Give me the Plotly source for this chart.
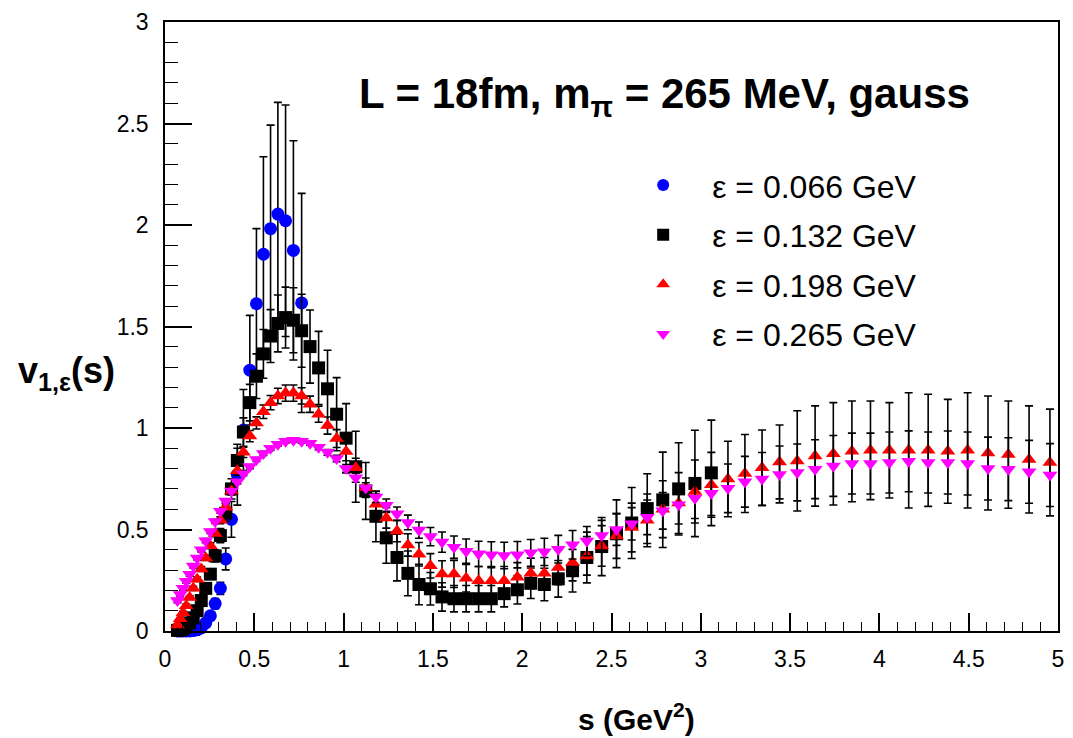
import plotly.graph_objects as go

# s grid (GeV^2)
s_all = [0.070, 0.085, 0.101, 0.119, 0.138, 0.158, 0.180, 0.203, 0.228, 0.254,
         0.281, 0.310, 0.340, 0.372, 0.405, 0.439, 0.475, 0.512, 0.551, 0.591,
         0.632, 0.675, 0.719, 0.765, 0.812, 0.860, 0.910, 0.961, 1.014, 1.068,
         1.124, 1.181, 1.239, 1.299, 1.360, 1.422, 1.486, 1.551, 1.618, 1.686,
         1.756, 1.827, 1.899, 1.973, 2.048, 2.124, 2.202, 2.282, 2.362, 2.445,
         2.528, 2.613, 2.700, 2.787, 2.876, 2.967, 3.059, 3.152, 3.247, 3.343,
         3.441, 3.540, 3.640, 3.742, 3.846, 3.950, 4.056, 4.164, 4.273, 4.383,
         4.494, 4.608, 4.722, 4.838, 4.955]

# eps = 0.066 GeV (blue)
s_blue = s_all[:24]
v_blue = [0.0, 0.0, 0.0, 0.0, 0.0, 0.002, 0.006, 0.015, 0.04, 0.075,
          0.135, 0.21, 0.355, 0.55, 0.77, 0.99, 1.285, 1.612, 1.856, 1.982,
          2.054, 2.021, 1.875, 1.616]
e_blue = [0.002, 0.002, 0.002, 0.002, 0.002, 0.005, 0.008, 0.012, 0.015, 0.02,
          0.025, 0.03, 0.054, 0.088, 0.15, 0.2, 0.27, 0.37, 0.48, 0.51,
          0.55, 0.57, 0.54, 0.54]

# eps = 0.132 GeV (black)
s_black = s_all[:57]
v_black = [0.003, 0.005, 0.01, 0.02, 0.04, 0.065, 0.10, 0.15, 0.21, 0.28,
           0.37, 0.47, 0.58, 0.70, 0.84, 0.98, 1.125, 1.255, 1.365, 1.453,
           1.515, 1.544, 1.531, 1.479, 1.401, 1.296, 1.193, 1.068, 0.95, 0.809,
           0.69, 0.565, 0.459, 0.362, 0.284, 0.229, 0.208, 0.168, 0.159, 0.159,
           0.159, 0.159, 0.184, 0.203, 0.235, 0.229, 0.257, 0.297, 0.362, 0.416,
           0.479, 0.532, 0.603, 0.646, 0.70, 0.727, 0.779]
e_black = [0.005, 0.005, 0.006, 0.008, 0.01, 0.012, 0.015, 0.018, 0.02, 0.025,
           0.03, 0.035, 0.04, 0.05, 0.06, 0.07, 0.09, 0.11, 0.12, 0.13,
           0.14, 0.15, 0.16, 0.18, 0.18, 0.18, 0.19, 0.18, 0.17, 0.175,
           0.14, 0.125, 0.125, 0.115, 0.11, 0.10, 0.08, 0.07, 0.065, 0.065,
           0.065, 0.065, 0.065, 0.07, 0.075, 0.08, 0.09, 0.105, 0.125, 0.143,
           0.167, 0.175, 0.172, 0.235, 0.227, 0.262, 0.26]

# eps = 0.198 GeV (red)
v_red = [0.03, 0.06, 0.09, 0.125, 0.165, 0.21, 0.255, 0.305, 0.36, 0.42,
         0.48, 0.545, 0.61, 0.69, 0.79, 0.88, 0.96, 1.025, 1.08, 1.125,
         1.158, 1.172, 1.172, 1.158, 1.117, 1.068, 1.012, 0.948, 0.884, 0.804,
         0.706, 0.625, 0.557, 0.492, 0.424, 0.378, 0.321, 0.281, 0.281, 0.26,
         0.248, 0.248, 0.248, 0.265, 0.284, 0.284, 0.313, 0.337, 0.37, 0.419,
         0.468, 0.51, 0.545, 0.60, 0.63, 0.687, 0.72, 0.749, 0.776, 0.804,
         0.833, 0.838, 0.862, 0.873, 0.885, 0.89, 0.89, 0.89, 0.89, 0.885,
         0.89, 0.877, 0.869, 0.845, 0.83]
e_red = [0.005, 0.006, 0.007, 0.008, 0.009, 0.01, 0.011, 0.012, 0.013, 0.014,
         0.015, 0.017, 0.019, 0.02, 0.022, 0.025, 0.028, 0.03, 0.033, 0.035,
         0.038, 0.04, 0.04, 0.04, 0.04, 0.04, 0.042, 0.044, 0.045, 0.047,
         0.048, 0.05, 0.05, 0.052, 0.055, 0.058, 0.06, 0.065, 0.067, 0.068,
         0.07, 0.07, 0.07, 0.072, 0.075, 0.078, 0.085, 0.09, 0.095, 0.10,
         0.11, 0.12, 0.13, 0.14, 0.15, 0.155, 0.16, 0.186, 0.192, 0.186,
         0.182, 0.247, 0.247, 0.252, 0.248, 0.243, 0.235, 0.284, 0.276, 0.256,
         0.284, 0.281, 0.264, 0.264, 0.263]

# eps = 0.265 GeV (magenta)
v_mag = [0.15, 0.18, 0.21, 0.245, 0.28, 0.32, 0.36, 0.40, 0.445, 0.49,
         0.54, 0.59, 0.64, 0.69, 0.735, 0.775, 0.81, 0.845, 0.875, 0.90,
         0.92, 0.935, 0.94, 0.935, 0.925, 0.905, 0.88, 0.85, 0.80, 0.755,
         0.705, 0.66, 0.62, 0.578, 0.535, 0.497, 0.465, 0.438, 0.413, 0.393,
         0.38, 0.376, 0.372, 0.376, 0.385, 0.39, 0.403, 0.425, 0.443, 0.47,
         0.50, 0.528, 0.56, 0.592, 0.622, 0.654, 0.679, 0.703, 0.735, 0.749,
         0.771, 0.781, 0.797, 0.813, 0.825, 0.825, 0.830, 0.836, 0.830, 0.830,
         0.825, 0.80, 0.797, 0.784, 0.768]
e_mag = [0.01, 0.01, 0.01, 0.01, 0.01, 0.01, 0.01, 0.01, 0.01, 0.01,
         0.01, 0.01, 0.01, 0.01, 0.01, 0.01, 0.01, 0.01, 0.01, 0.01,
         0.01, 0.01, 0.01, 0.01, 0.01, 0.012, 0.014, 0.016, 0.02, 0.022,
         0.025, 0.027, 0.03, 0.033, 0.036, 0.04, 0.045, 0.05, 0.055, 0.06,
         0.062, 0.064, 0.065, 0.065, 0.066, 0.067, 0.068, 0.07, 0.072, 0.075,
         0.078, 0.08, 0.085, 0.09, 0.095, 0.10, 0.11, 0.12, 0.125, 0.13,
         0.14, 0.14, 0.145, 0.15, 0.15, 0.15, 0.15, 0.15, 0.15, 0.155,
         0.155, 0.155, 0.155, 0.155, 0.155]

labels = ["ε = 0.066 GeV", "ε = 0.132 GeV", "ε = 0.198 GeV", "ε = 0.265 GeV"]

FONT = "Liberation Sans, Arial, Helvetica, sans-serif"

fig = go.Figure()

def add(s, v, e, name, color, symbol, size):
    fig.add_trace(go.Scatter(
        x=s, y=v, mode="markers", name=name, legendgroup=name,
        marker=dict(color=color, symbol=symbol, size=size, line=dict(width=0)),
        error_y=dict(type="data", array=e, visible=True, color="black",
                     thickness=1.6, width=4),
        cliponaxis=False,
    ))

add(s_blue, v_blue, e_blue, labels[0], "#0000ff", "circle", 13)
add(s_black, v_black, e_black, labels[1], "#000000", "square", 13)
add(s_all, v_red, e_red, labels[2], "#ff0000", "triangle-up", 13)
add(s_all, v_mag, e_mag, labels[3], "#ff00ff", "triangle-down", 13)

axis_common = dict(
    showline=True, linecolor="black", linewidth=1.5, mirror=True,
    showgrid=False, zeroline=False, ticks="inside", tickcolor="black",
    tickwidth=1.5, tickfont=dict(family=FONT, size=23, color="black"),
    ticklabeloverflow="allow",
)

fig.update_layout(
    width=1073, height=738, autosize=False,
    margin=dict(l=165, r=9, t=15, b=107),
    paper_bgcolor="white", plot_bgcolor="white",
    font=dict(family=FONT, color="black"),
    xaxis=dict(range=[0, 5], tick0=0, dtick=0.5, ticklen=18,
               minor=dict(dtick=0.1, ticklen=9, ticks="inside",
                          tickcolor="black", tickwidth=1.2, showgrid=False),
               ticklabelstandoff=7, **axis_common),
    yaxis=dict(range=[0, 3], tick0=0, dtick=0.5, ticklen=27,
               minor=dict(dtick=0.1, ticklen=13, ticks="inside",
                          tickcolor="black", tickwidth=1.2, showgrid=False),
               ticklabelstandoff=10, **axis_common),
    showlegend=True,
    legend=dict(x=0.503, y=0.777, xanchor="left", yanchor="top",
                bgcolor="rgba(0,0,0,0)", borderwidth=0,
                font=dict(family=FONT, size=32, color="black"),
                itemsizing="constant", itemwidth=88, tracegroupgap=5,
                traceorder="grouped"),
    annotations=[
        dict(text="<b>L = 18fm, m<sub>π</sub> = 265 MeV, gauss</b>",
             xref="paper", yref="paper", x=0.5595, y=0.878,
             xanchor="center", yanchor="middle", showarrow=False,
             font=dict(family=FONT, size=42, color="black")),
        dict(text="<b>v<sub>1,ε</sub>(s)</b>",
             xref="paper", yref="paper", x=-0.11, y=0.424,
             xanchor="center", yanchor="middle", showarrow=False,
             font=dict(family=FONT, size=36, color="black")),
        dict(text="<b>s (GeV<sup>2</sup>)</b>",
             xref="paper", yref="paper", x=0.528, y=-0.141,
             xanchor="center", yanchor="middle", showarrow=False,
             font=dict(family=FONT, size=30, color="black")),
    ],
)

fig.write_html("out.html",
               config={"displayModeBar": False},
               post_script="document.body.style.margin='0';"
                           "document.body.style.overflow='hidden';")
